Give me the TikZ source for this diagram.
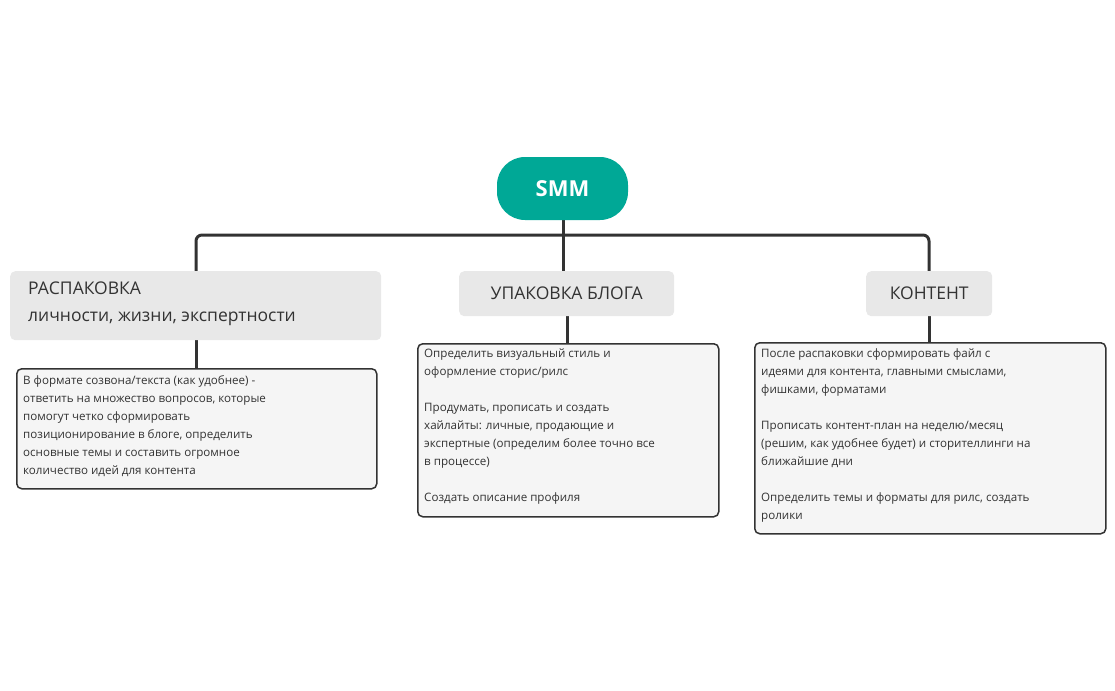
\documentclass[tikz,border=0pt]{standalone}
\usepackage{fontspec}
\setmainfont{Open Sans}
\definecolor{teal1}{HTML}{00A896}
\definecolor{ink}{HTML}{333333}
\definecolor{head}{HTML}{E8E8E8}
\definecolor{detail}{HTML}{F5F5F5}
\begin{document}
\begin{tikzpicture}[x=1pt,y=-1pt,
  conn/.style={draw=ink,line width=3pt,rounded corners=6pt},
  head/.style={fill=head,rounded corners=5pt,anchor=north west,inner sep=0pt,font=\fontsize{17.5}{24}\selectfont,text=ink},
  det/.style={draw=ink,fill=detail,line width=1.5pt,rounded corners=5pt,anchor=north west,inner sep=0pt,font=\fontsize{11.6}{18}\selectfont,text=ink,align=left}]
\useasboundingbox (0,0) rectangle (1115,690);
% connectors first
\coordinate (jL) at (196,235);
\coordinate (jR) at (929,235);
\draw[conn] (196,272) -- (jL) -- (jR) -- (929,272);
\draw[conn] (563,215) -- (563,272);
\draw[conn] (196,338) -- (196,370);
\draw[conn] (567,314) -- (567,345);
\draw[conn] (929,314) -- (929,344);
% root
\node[fill=teal1,rounded corners=28pt,minimum width=131pt,minimum height=63pt,inner sep=0pt,text=white,font=\fontsize{22}{26}\selectfont\bfseries] (root) at (562.5,188.5) {SMM};
% heads
\node[head,minimum width=371pt,minimum height=69pt] (h1) at (10,271) {};
\node[anchor=north west,inner sep=0pt,font=\fontsize{17.5}{27}\selectfont,text=ink,align=left] (h1t) at (28,282) {РАСПАКОВКА\\личности, жизни, экспертности};
\node[head,minimum width=215pt,minimum height=45pt] (h2) at (459,271) {};
\node[font=\fontsize{17.5}{24}\selectfont,text=ink] (h2t) at (h2.center) {УПАКОВКА БЛОГА};
\node[head,minimum width=126pt,minimum height=45pt] (h3) at (866,271) {};
\node[font=\fontsize{17.5}{24}\selectfont,text=ink] (h3t) at (h3.center) {КОНТЕНТ};
% details
\node[det,minimum width=360pt,minimum height=120pt] (d1) at (16,368) {};
\node[anchor=north west,inner sep=0pt,font=\fontsize{11.6}{18}\selectfont,text=ink,align=left] (d1t) at (23,375) {В формате созвона/текста (как удобнее) -\\ответить на множество вопросов, которые\\помогут четко сформировать\\позиционирование в блоге, определить\\основные темы и составить огромное\\количество идей для контента};
\node[det,minimum width=301pt,minimum height=173pt] (d2) at (417,343) {};
\node[anchor=north west,inner sep=0pt,font=\fontsize{11.6}{18}\selectfont,text=ink,align=left] (d2t) at (424,349) {Определить визуальный стиль и\\оформление сторис/рилс\\[18pt]Продумать, прописать и создать\\хайлайты: личные, продающие и\\экспертные (определим более точно все\\в процессе)\\[18pt]Создать описание профиля};
\node[det,minimum width=351pt,minimum height=191pt] (d3) at (754,342) {};
\node[anchor=north west,inner sep=0pt,font=\fontsize{11.6}{18}\selectfont,text=ink,align=left] (d3t) at (761,348) {После распаковки сформировать файл с\\идеями для контента, главными смыслами,\\фишками, форматами\\[18pt]Прописать контент-план на неделю/месяц\\(решим, как удобнее будет) и сторителлинги на\\ближайшие дни\\[18pt]Определить темы и форматы для рилс, создать\\ролики};
\end{tikzpicture}
\end{document}
